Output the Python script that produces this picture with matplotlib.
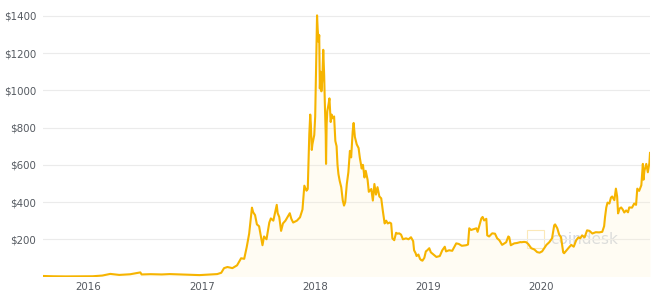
import matplotlib.pyplot as plt
import matplotlib.dates as mdates
import pandas as pd
from matplotlib.patches import Rectangle

# 価格データ (目視で読み取り)
dates = [
    "2015-08-08", "2015-09-10", "2015-10-20", "2015-12-10", "2016-01-15", "2016-02-15",
    "2016-03-12", "2016-04-10", "2016-05-15", "2016-06-17", "2016-06-21", "2016-07-20",
    "2016-08-25", "2016-09-20", "2016-10-25", "2016-11-25", "2016-12-25", "2017-01-25",
    "2017-02-20", "2017-03-05", "2017-03-14", "2017-03-25", "2017-04-10", "2017-04-25",
    "2017-05-08", "2017-05-18", "2017-05-26", "2017-06-03", "2017-06-12", "2017-06-16",
    "2017-06-22", "2017-06-28", "2017-07-05", "2017-07-16", "2017-07-21", "2017-07-29",
    "2017-08-07", "2017-08-12", "2017-08-20", "2017-08-31", "2017-09-03", "2017-09-08",
    "2017-09-14", "2017-09-20", "2017-09-28", "2017-10-12", "2017-10-17", "2017-10-23",
    "2017-11-04", "2017-11-14", "2017-11-22", "2017-11-28", "2017-12-05", "2017-12-09",
    "2017-12-12", "2017-12-14", "2017-12-17", "2017-12-19", "2017-12-22", "2017-12-24",
    "2017-12-30", "2018-01-02", "2018-01-05", "2018-01-08", "2018-01-10", "2018-01-13",
    "2018-01-15", "2018-01-17", "2018-01-19", "2018-01-22", "2018-01-25", "2018-01-28",
    "2018-01-31", "2018-02-02", "2018-02-05", "2018-02-06", "2018-02-08", "2018-02-10",
    "2018-02-14", "2018-02-17", "2018-02-21", "2018-02-24", "2018-02-27", "2018-03-04",
    "2018-03-08", "2018-03-12", "2018-03-15", "2018-03-18", "2018-03-22", "2018-03-27",
    "2018-04-01", "2018-04-05", "2018-04-09", "2018-04-14", "2018-04-19", "2018-04-24",
    "2018-04-28", "2018-05-03", "2018-05-06", "2018-05-10", "2018-05-16", "2018-05-22",
    "2018-05-26", "2018-06-01", "2018-06-05", "2018-06-10", "2018-06-14", "2018-06-20",
    "2018-06-24", "2018-07-02", "2018-07-07", "2018-07-12", "2018-07-17", "2018-07-22",
    "2018-07-28", "2018-08-03", "2018-08-08", "2018-08-14", "2018-08-19", "2018-08-24",
    "2018-08-30", "2018-09-04", "2018-09-08", "2018-09-14", "2018-09-20", "2018-09-25",
    "2018-09-30", "2018-10-06", "2018-10-12", "2018-10-22", "2018-10-30", "2018-11-07",
    "2018-11-14", "2018-11-17", "2018-11-22", "2018-11-25", "2018-12-01", "2018-12-06",
    "2018-12-10", "2018-12-14", "2018-12-20", "2018-12-25", "2018-12-29", "2019-01-05",
    "2019-01-10", "2019-01-21", "2019-01-28", "2019-02-08", "2019-02-16", "2019-02-24",
    "2019-02-28", "2019-03-10", "2019-03-20", "2019-04-02", "2019-04-10", "2019-04-20",
    "2019-05-04", "2019-05-10", "2019-05-14", "2019-05-20", "2019-06-06", "2019-06-10",
    "2019-06-15", "2019-06-22", "2019-06-26", "2019-07-01", "2019-07-08", "2019-07-11",
    "2019-07-17", "2019-07-27", "2019-08-05", "2019-08-12", "2019-08-19", "2019-08-28",
    "2019-09-10", "2019-09-17", "2019-09-20", "2019-09-25", "2019-10-06", "2019-10-15",
    "2019-10-26", "2019-10-29", "2019-11-07", "2019-11-14", "2019-11-20", "2019-11-30",
    "2019-12-10", "2019-12-19", "2019-12-27", "2020-01-04", "2020-01-11", "2020-01-18",
    "2020-01-27", "2020-02-05", "2020-02-12", "2020-02-15", "2020-02-22", "2020-02-28",
    "2020-03-05", "2020-03-12", "2020-03-15", "2020-03-20", "2020-03-31", "2020-04-07",
    "2020-04-15", "2020-04-23", "2020-04-30", "2020-05-06", "2020-05-12", "2020-05-20",
    "2020-05-28", "2020-06-05", "2020-06-14", "2020-06-25", "2020-07-06", "2020-07-16",
    "2020-07-22", "2020-07-25", "2020-07-29", "2020-08-02", "2020-08-08", "2020-08-13",
    "2020-08-17", "2020-08-24", "2020-08-29", "2020-09-02", "2020-09-05", "2020-09-10",
    "2020-09-15", "2020-09-20", "2020-09-25", "2020-10-01", "2020-10-07", "2020-10-11",
    "2020-10-20", "2020-10-27", "2020-11-02", "2020-11-06", "2020-11-12", "2020-11-19",
    "2020-11-24", "2020-11-26", "2020-11-29", "2020-12-05", "2020-12-10", "2020-12-15",
    "2020-12-17",
]
prices = [
    2.8, 1.2, 0.5, 0.9, 1.3, 5,
    14, 8.5, 12, 22, 11, 12.5,
    11, 13, 11, 9, 7.5, 10.5,
    13, 20, 45, 51, 45, 60,
    98, 95, 157, 230, 370, 345,
    330, 280, 270, 168, 215, 200,
    290, 312, 300, 385, 340, 320,
    245, 285, 300, 340, 310, 290,
    300, 318, 360, 488, 461, 470,
    650, 765, 870, 820, 680, 710,
    760, 860, 1118, 1403, 1330, 1260,
    1297, 1010, 1100, 995, 1060, 1218,
    1080, 940, 760, 605, 820, 888,
    925, 957, 830, 870, 850, 860,
    728, 700, 600, 550, 514, 480,
    408, 381, 400, 497, 560, 675,
    640, 780, 825, 750, 710, 690,
    638, 580, 600, 532, 568, 520,
    455, 470, 408, 497, 440, 480,
    430, 420, 355, 285, 300, 285,
    290, 285, 205, 195, 235, 230,
    232, 225, 200, 205, 200, 211,
    190, 141, 125, 110, 118, 95,
    88, 85, 100, 135, 140, 152,
    130, 115, 105, 110, 141, 160,
    135, 141, 138, 178, 175, 165,
    168, 172, 259, 250, 259, 240,
    270, 312, 320, 301, 310, 221,
    215, 232, 230, 205, 195, 170,
    184, 215, 211, 168, 178, 180,
    185, 184, 186, 184, 175, 152,
    145, 131, 128, 135, 152, 170,
    184, 205, 275, 280, 259, 225,
    211, 130, 125, 135, 157, 170,
    160, 195, 210, 205, 221, 210,
    248, 245, 231, 238, 237, 240,
    270, 320, 371, 397, 392, 424,
    430, 410, 472, 430, 339, 365,
    371, 360, 344, 355, 345, 371,
    370, 392, 385, 472, 460, 490,
    605, 520, 568, 605, 560, 610,
    664,
]
y_ticks = [200, 400, 600, 800, 1000, 1200, 1400]
x_years = ["2016", "2017", "2018", "2019", "2020"]

x = pd.to_datetime(dates)
line_color = '#f6b400'

fig = plt.figure(figsize=(6.6, 2.96), dpi=100)
ax = fig.add_axes([43 / 660, 19.5 / 296, 607 / 660, 273.6 / 296])

ax.fill_between(x, prices, 0, color='#fff3cc', alpha=0.22, linewidth=0, zorder=2)
ax.plot(x, prices, color=line_color, linewidth=1.5, zorder=3)

ax.set_xlim(x[0], x[-1])
ax.set_ylim(0, 1470)

ax.set_yticks(y_ticks)
ax.set_yticklabels(['$' + str(v) for v in y_ticks])
ax.set_xticks(pd.to_datetime([y + "-01-01" for y in x_years]))
ax.xaxis.set_major_formatter(mdates.DateFormatter('%Y'))

ax.grid(axis='y', color='#ebebeb', linewidth=0.8, zorder=0)
ax.tick_params(axis='both', length=0, labelsize=7.4, colors='#555a61')
ax.tick_params(axis='y', pad=5)
ax.tick_params(axis='x', pad=4)
for s in ax.spines.values():
    s.set_visible(False)

# ウォーターマーク
ax.text(0.835, 0.135, 'coindesk', transform=ax.transAxes, fontsize=11,
        color='#c9ced8', alpha=0.8, ha='left', va='center', zorder=1)
ax.add_patch(Rectangle((0.798, 0.105), 0.028, 0.065, transform=ax.transAxes,
                       fill=False, edgecolor='#f9d98a', linewidth=0.8, alpha=0.6, zorder=1))

fig.savefig('out.png', dpi=100)
